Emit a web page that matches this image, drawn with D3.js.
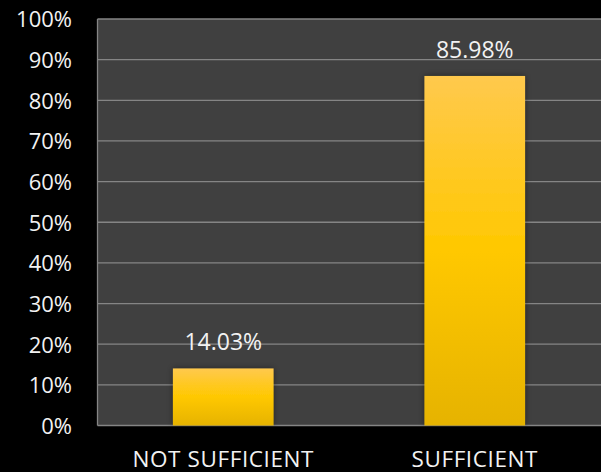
<!DOCTYPE html>
<html><head><meta charset="utf-8">
<script src="https://cdn.jsdelivr.net/npm/d3@7"></script>
<style>
html,body{margin:0;padding:0;background:#000;}
text{font-family:"Open Sans",Lato,sans-serif;}
</style></head>
<body><svg id="c" width="601" height="472"></svg>
<script>
const categories = ["NOT SUFFICIENT", "SUFFICIENT"];
const values = [14.03, 85.98];
const valueLabels = ["14.03%", "85.98%"];
const yTicks = [0,10,20,30,40,50,60,70,80,90,100];

const svg = d3.select("#c");
const W = 601, H = 472;
const m = {left: 97.5, right: 0, top: 19, bottom: 46.5};
svg.append("rect").attr("width", W).attr("height", H).attr("fill", "#000");

const x = d3.scaleBand().domain(categories).range([m.left, m.left + 503]).paddingInner(0.6).paddingOuter(0.3);
const y = d3.scaleLinear().domain([0, 100]).range([H - m.bottom, m.top]);

const defs = svg.append("defs");
const g = defs.append("linearGradient").attr("id", "bg").attr("x1", 0).attr("y1", 0).attr("x2", 0).attr("y2", 1);
g.append("stop").attr("offset", "0%").attr("stop-color", "#FFC94D");
g.append("stop").attr("offset", "50%").attr("stop-color", "#FFC800");
g.append("stop").attr("offset", "100%").attr("stop-color", "#E6B300");
const f = defs.append("filter").attr("id", "sh").attr("x", "-20%").attr("y", "-20%").attr("width", "140%").attr("height", "140%");
f.append("feDropShadow").attr("dx", 0).attr("dy", 0).attr("stdDeviation", 3).attr("flood-color", "#000").attr("flood-opacity", 0.45);

svg.append("rect").attr("x", m.left).attr("y", m.top).attr("width", W - m.left).attr("height", y(0) - m.top).attr("fill", "#404040");

svg.append("g").selectAll("line").data(yTicks).join("line")
  .attr("x1", m.left).attr("x2", W).attr("y1", d => y(d)).attr("y2", d => y(d))
  .attr("stroke", "#858585").attr("stroke-width", 1.3);
svg.append("line").attr("x1", m.left).attr("x2", m.left).attr("y1", m.top).attr("y2", y(0))
  .attr("stroke", "#858585").attr("stroke-width", 1.3);

const yAxis = d3.axisLeft(y).tickValues(yTicks).tickFormat(d => d + "%").tickSize(0).tickPadding(25.5);
const ya = svg.append("g").attr("transform", `translate(${m.left},0)`).call(yAxis);
ya.select(".domain").remove();
ya.selectAll("text").attr("fill", "#f2f2f2").attr("font-size", 22).attr("dy", "0.36em")
  .attr("font-family", "'Open Sans',sans-serif");

const xAxis = d3.axisBottom(x).tickSize(0).tickPadding(41);
const xa = svg.append("g").attr("transform", `translate(0,${y(0)})`).call(xAxis);
xa.select(".domain").remove();
xa.selectAll("text").attr("fill", "#f2f2f2").attr("font-size", 22.5).attr("dy", 0)
  .attr("letter-spacing", "0.6px").attr("font-family", "'Open Sans',sans-serif");

svg.append("g").selectAll("rect").data(values).join("rect")
  .attr("x", (d, i) => x(categories[i])).attr("width", x.bandwidth())
  .attr("y", d => y(d)).attr("height", d => y(0) - y(d))
  .attr("fill", "url(#bg)").attr("filter", "url(#sh)");

svg.append("g").selectAll("text").data(values).join("text")
  .attr("x", (d, i) => x(categories[i]) + x.bandwidth() / 2)
  .attr("y", d => y(d) - 18)
  .attr("text-anchor", "middle").attr("fill", "#f2f2f2").attr("font-size", 23)
  .text((d, i) => valueLabels[i]);
</script></body></html>
